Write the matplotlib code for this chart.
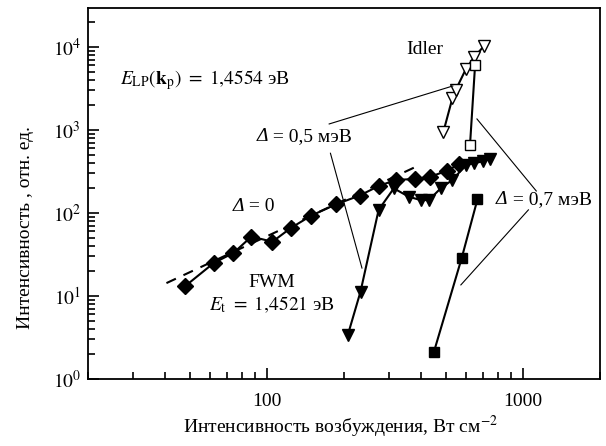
import matplotlib
matplotlib.use('Agg')
import matplotlib.pyplot as plt
from matplotlib.ticker import LogLocator, FixedLocator, FixedFormatter, NullFormatter

plt.rcParams['font.family'] = ['Liberation Serif', 'DejaVu Serif']
plt.rcParams['mathtext.fontset'] = 'stix'
plt.rcParams['font.size'] = 14

# FWM signal, zero detuning (diamonds)
fwm0_x = [48, 62, 74, 87, 105, 124, 149, 186, 230, 273, 318, 380, 435, 503, 562]
fwm0_y = [13.2, 25, 33, 52, 45, 66, 93, 127, 162, 211, 250, 257, 274, 321, 386]
# power-law guide for the zero-detuning data
fit_x = [40.5, 380]
fit_y = [14.3, 358]
# FWM signal, detuning 0.5 meV (filled triangles)
fwm05_x = [207, 232, 273, 313, 358, 398, 429, 477, 530, 599, 646, 697, 740]
fwm05_y = [3.4, 11.3, 109, 198, 157, 143, 143, 198, 250, 379, 397, 420, 444]
# FWM signal, detuning 0.7 meV (filled squares)
fwm07_x = [449, 576, 664]
fwm07_y = [2.13, 28.5, 146]
# idler, detuning 0.5 meV (open triangles)
idl05_x = [489, 530, 546, 598, 644, 705]
idl05_y = [955, 2410, 3030, 5390, 7510, 10300]
# idler, detuning 0.7 meV (open squares)
idl07_x = [621, 650]
idl07_y = [659, 6070]

# leader lines from the detuning labels to the curves
leaders_05 = [([175, 532], [1181, 3388]), ([177, 235], [524, 21.7])]
leaders_07 = [([1127, 661], [184, 1357]), ([1050, 572], [109, 13.6])]

fig = plt.figure(figsize=(6.06, 4.46), dpi=100)
ax = fig.add_axes([0.1452, 0.1502, 0.845, 0.832])
ax.set_xscale('log')
ax.set_yscale('log')
ax.set_xlim(20, 2000)
ax.set_ylim(1, 29500)

ax.plot(fit_x, fit_y, color='k', lw=1.5, dashes=(5, 4))
ax.plot(fwm0_x, fwm0_y, color='k', lw=1.5, marker='D', ms=8.5, mfc='k', mec='k')
ax.plot(fwm05_x, fwm05_y, color='k', lw=1.5, marker='v', ms=9, mfc='k', mec='k')
ax.plot(fwm07_x, fwm07_y, color='k', lw=1.5, marker='s', ms=7.5, mfc='k', mec='k')
ax.plot(idl05_x, idl05_y, color='k', lw=1.5, marker='v', ms=8, mfc='white', mec='k', mew=1)
ax.plot(idl07_x, idl07_y, color='k', lw=1.5, marker='s', ms=7, mfc='white', mec='k', mew=1, zorder=3)

for lx, ly in leaders_05 + leaders_07:
    ax.plot(lx, ly, color='k', lw=0.8)

tr = ax.transAxes


def delta_label(x, y, rest):
    # italic capital delta followed by the upright remainder
    d = ax.text(x, y, 'Δ', transform=tr, ha='left', va='bottom', style='italic')
    ax.annotate(rest, xy=(1, 0), xycoords=d, ha='left', va='bottom')


ax.text(0.658, 0.887, 'Idler', transform=tr, ha='center', va='center')
ax.text(0.0625, 0.806, r'$E_{\mathrm{LP}}(\mathbf{k}_{\mathrm{p}})\ =\ 1{,}4554$ эВ',
        transform=tr, ha='left', va='center')
delta_label(0.329, 0.630, ' = 0,5 мэВ')
delta_label(0.283, 0.442, ' = 0')
ax.text(0.359, 0.259, 'FWM', transform=tr, ha='center', va='center')
ax.text(0.359, 0.199, r'$E_{\mathrm{t}}\ =\ 1{,}4521$ эВ', transform=tr, ha='center', va='center')
delta_label(0.797, 0.460, ' = 0,7 мэВ')

ax.xaxis.set_major_locator(FixedLocator([100, 1000]))
ax.xaxis.set_major_formatter(FixedFormatter(['100', '1000']))
ax.xaxis.set_minor_locator(LogLocator(base=10, subs=range(2, 10)))
ax.xaxis.set_minor_formatter(NullFormatter())
ax.yaxis.set_major_locator(FixedLocator([1, 10, 100, 1000, 10000]))
ax.yaxis.set_major_formatter(FixedFormatter([r'$10^{0}$', r'$10^{1}$', r'$10^{2}$',
                                             r'$10^{3}$', r'$10^{4}$']))
ax.yaxis.set_minor_locator(LogLocator(base=10, subs=range(2, 10)))
ax.yaxis.set_minor_formatter(NullFormatter())

ax.tick_params(which='both', direction='in', top=False, right=False, width=1.2)
ax.tick_params(which='major', length=8)
ax.tick_params(which='minor', length=5)
ax.tick_params(axis='x', which='major', pad=10)
ax.tick_params(axis='y', which='major', pad=5)
for s in ax.spines.values():
    s.set_linewidth(1.3)

ax.set_xlabel('Интенсивность возбуждения, Вт см$^{-2}$', va='center')
ax.xaxis.set_label_coords(0.494, -0.129)
ax.set_ylabel('Интенсивность , отн. ед.', va='center')
ax.yaxis.set_label_coords(-0.123, 0.407)

fig.savefig('out.png', dpi=100)
